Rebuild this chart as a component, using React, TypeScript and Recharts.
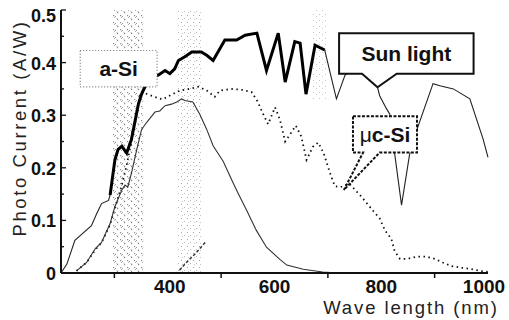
import { LineChart, Line, XAxis, YAxis, ReferenceArea } from "recharts";

// sun light spectrum (A/W scale)
const sunNm = [200, 211, 226, 236, 257, 267, 276, 289, 292, 301, 307, 314, 323, 332, 345, 351, 360, 372, 382, 395, 404, 413, 420, 432, 445, 463, 473, 485, 507, 529, 545, 567, 585, 607, 620, 638, 648, 659, 676, 694, 716, 732, 755, 780, 793, 797, 810, 816, 825, 838, 853, 867, 897, 910, 935, 966, 991, 1000];
const sunVal = [0.0, 0.017, 0.062, 0.071, 0.09, 0.113, 0.132, 0.138, 0.148, 0.215, 0.235, 0.241, 0.228, 0.254, 0.321, 0.34, 0.36, 0.372, 0.376, 0.385, 0.379, 0.388, 0.404, 0.411, 0.42, 0.42, 0.414, 0.404, 0.443, 0.443, 0.452, 0.456, 0.385, 0.456, 0.363, 0.44, 0.437, 0.34, 0.433, 0.424, 0.331, 0.376, 0.395, 0.37, 0.353, 0.337, 0.312, 0.302, 0.228, 0.129, 0.225, 0.273, 0.36, 0.356, 0.35, 0.331, 0.254, 0.22];
// part of the sun curve drawn with the heavy pen
const sunHeavyFrom = 292;
const sunHeavyTo = 694;

const aSiNm = [229, 248, 264, 276, 292, 301, 314, 320, 325, 332, 342, 351, 361, 376, 385, 395, 407, 417, 426, 432, 447, 460, 473, 485, 504, 523, 532, 548, 566, 585, 610, 623, 654, 690, 720];
const aSiVal = [0.004, 0.02, 0.046, 0.058, 0.094, 0.126, 0.158, 0.167, 0.163, 0.19, 0.235, 0.273, 0.287, 0.306, 0.308, 0.318, 0.321, 0.325, 0.331, 0.328, 0.325, 0.302, 0.273, 0.242, 0.212, 0.17, 0.151, 0.119, 0.081, 0.049, 0.026, 0.015, 0.007, 0.002, 0];

const ucSiNm = [229, 248, 264, 276, 292, 301, 312, 322, 332, 342, 350, 362, 375, 390, 405, 423, 441, 457, 473, 488, 498, 522, 540, 557, 569, 576, 588, 601, 610, 620, 628, 640, 650, 660, 672, 682, 692, 704, 713, 723, 740, 751, 763, 784, 797, 807, 819, 825, 835, 850, 866, 885, 900, 915, 932, 950, 966, 985, 1000];
const ucSiVal = [0.004, 0.02, 0.044, 0.058, 0.092, 0.124, 0.16, 0.2, 0.25, 0.31, 0.345, 0.34, 0.335, 0.33, 0.338, 0.347, 0.35, 0.354, 0.347, 0.335, 0.347, 0.35, 0.348, 0.344, 0.325, 0.308, 0.283, 0.315, 0.292, 0.25, 0.262, 0.28, 0.26, 0.215, 0.24, 0.248, 0.228, 0.19, 0.165, 0.163, 0.17, 0.158, 0.145, 0.119, 0.104, 0.081, 0.065, 0.042, 0.027, 0.027, 0.031, 0.031, 0.027, 0.02, 0.013, 0.01, 0.008, 0.004, 0.002];

// short stray trace inside the 430 nm band
const strayNm = [422, 435, 450, 470];
const strayVal = [0.005, 0.02, 0.035, 0.058];

// shaded wavelength bands [from, to, bottom, top]
const bands = [
  { from: 297, to: 354, lo: 0, hi: 0.5, fill: "url(#speckA)" },
  { from: 417, to: 464, lo: 0, hi: 0.5, fill: "url(#speckB)" },
  { from: 672, to: 700, lo: 0.33, hi: 0.5, fill: "url(#speckC)" },
];

const xTicks = [300, 400, 500, 600, 700, 800, 900, 1000];
const xLabelTicks = [400, 600, 800, 1000];
const topTicks = [300, 400, 500, 600, 700, 800, 900];
const yTicks = [0, 0.05, 0.1, 0.15, 0.2, 0.25, 0.3, 0.35, 0.4, 0.45, 0.5];
const yLabels: Record<string, string> = { "0": "0", "0.1": "0.1", "0.2": "0.2", "0.3": "0.3", "0.4": "0.4", "0.5": "0.5" };

const FONT = "'Liberation Sans', Arial, sans-serif";

const pts = (xs: number[], ys: number[]) => xs.map((x, i) => ({ x, y: ys[i] }));
const sunAll = pts(sunNm, sunVal);
const sunLeft = sunAll.filter((p) => p.x <= sunHeavyFrom);
const sunMid = sunAll.filter((p) => p.x >= sunHeavyFrom && p.x <= sunHeavyTo);
const sunRight = sunAll.filter((p) => p.x >= sunHeavyTo);

type Callout = {
  x1: number; x2: number; y1: number; y2: number;
  base?: [number, number]; tip?: [number, number];
  stroke: string; strokeWidth: number; dash?: string;
  text: React.ReactNode;
};

const callouts: Callout[] = [
  { x1: 236, x2: 380, y1: 0.354, y2: 0.423, stroke: "#777", strokeWidth: 1.2, dash: "1 2", text: "a-Si" },
  { x1: 721, x2: 973, y1: 0.379, y2: 0.456, base: [764, 829], tip: [793, 0.353], stroke: "#111", strokeWidth: 2, text: "Sun light" },
  {
    x1: 747, x2: 867, y1: 0.229, y2: 0.298, base: [766, 797], tip: [730, 0.158], stroke: "#111", strokeWidth: 2, dash: "3 1.5",
    text: <><tspan fontWeight={400}>μ</tspan>c-Si</>,
  },
];

function calloutShape(c: Callout) {
  return (p: any) => {
    const { x, y, width, height } = p;
    const sx = (v: number) => x + ((v - c.x1) / (c.x2 - c.x1)) * width;
    const sy = (v: number) => y + ((c.y2 - v) / (c.y2 - c.y1)) * height;
    const L = x, R = x + width, T = y, B = y + height;
    const d = c.base && c.tip
      ? `M${L},${T}H${R}V${B}H${sx(c.base[1])}L${sx(c.tip[0])},${sy(c.tip[1])}L${sx(c.base[0])},${B}H${L}Z`
      : `M${L},${T}H${R}V${B}H${L}Z`;
    return (
      <g>
        <path d={d} fill="#fff" stroke={c.stroke} strokeWidth={c.strokeWidth} strokeDasharray={c.dash} />
        <text x={(L + R) / 2} y={(T + B) / 2} dy="0.36em" textAnchor="middle" fontFamily={FONT} fontWeight={700} fontSize={21} fill="#111">
          {c.text}
        </text>
      </g>
    );
  };
}

function BottomTick({ x, y, payload }: any) {
  const v = payload.value;
  if (xLabelTicks.includes(v)) {
    return (
      <text x={v === 1000 ? x - 4 : v === 400 ? x + 2 : x} y={y + 20} textAnchor="middle" fontFamily={FONT} fontWeight={700} fontSize={19} fill="#111">
        {v}
      </text>
    );
  }
  return <line x1={x} x2={x} y1={y} y2={y + 5} stroke="#111" strokeWidth={1.5} />;
}

function TopTick({ x, y }: any) {
  return <line x1={x} x2={x} y1={y} y2={y + 4} stroke="#111" strokeWidth={1.3} />;
}

function LeftTick({ x, y, payload }: any) {
  const label = yLabels[String(payload.value)];
  const major = label !== undefined;
  return (
    <g>
      <line x1={x} x2={x + (major ? 5 : 3)} y1={y} y2={y} stroke="#111" strokeWidth={1.3} />
      {major && (
        <text x={x - 5} y={y + (payload.value === 0.5 ? 12 : 7)} textAnchor="end" fontFamily={FONT} fontWeight={700} fontSize={18} fill="#111">
          {label}
        </text>
      )}
    </g>
  );
}

function RightTick({ x, y }: any) {
  return <line x1={x - 4} x2={x} y1={y} y2={y} stroke="#111" strokeWidth={1.3} />;
}

export default function App() {
  return (
    <div style={{ width: 509, height: 320, background: "#fff" }}>
      <style>{"body{margin:0}"}</style>
      <LineChart width={509} height={320} margin={{ top: 10, right: 21, left: 0, bottom: 0 }}>
        <defs>
          <pattern id="speckA" width="7" height="7" patternUnits="userSpaceOnUse">
            <rect x="1" y="1" width="1.2" height="1.2" fill="#8a8a8a" />
            <rect x="3" y="2" width="1" height="1" fill="#9a9a9a" />
            <rect x="2" y="3" width="1" height="1" fill="#aaa" />
            <rect x="5" y="5" width="1.2" height="1.2" fill="#8a8a8a" />
            <rect x="4.5" y="4" width="1" height="1" fill="#b0b0b0" />
          </pattern>
          <pattern id="speckB" width="6" height="7" patternUnits="userSpaceOnUse">
            <rect x="1" y="1" width="1" height="1" fill="#aaa" />
            <rect x="4" y="4" width="1" height="1" fill="#b8b8b8" />
            <rect x="2" y="5" width="1" height="1" fill="#c4c4c4" />
          </pattern>
          <pattern id="speckC" width="6" height="6" patternUnits="userSpaceOnUse">
            <rect x="1" y="2" width="1" height="1" fill="#c4c4c4" />
            <rect x="4" y="4" width="1" height="1" fill="#cfcfcf" />
          </pattern>
        </defs>
        <XAxis
          type="number" dataKey="x" domain={[200, 1000]} ticks={xTicks} interval={0}
          height={47} tickSize={0} tickMargin={0} tickLine={false} tick={<BottomTick />}
          axisLine={{ stroke: "#111", strokeWidth: 2 }}
          label={{
            content: () => (
              <text x={411} y={314} textAnchor="middle" fontFamily={FONT} fontSize={18.5} letterSpacing={1.9} fill="#222">
                Wave length (nm)
              </text>
            ),
          }}
        />
        <XAxis
          xAxisId="top" orientation="top" type="number" domain={[200, 1000]} ticks={topTicks} interval={0}
          height={0} tickSize={0} tickMargin={0} tickLine={false} tick={<TopTick />}
          axisLine={{ stroke: "#111", strokeWidth: 1.5 }}
        />
        <YAxis
          type="number" domain={[0, 0.5]} ticks={yTicks} interval={0}
          width={61} tickSize={0} tickMargin={0} tickLine={false} tick={<LeftTick />}
          axisLine={{ stroke: "#111", strokeWidth: 2 }}
          label={{
            content: () => (
              <text x={26} y={128} transform="rotate(-90 26 128)" textAnchor="middle" fontFamily={FONT} fontSize={18.5} letterSpacing={2.6} fill="#222">
                Photo Current (A/W)
              </text>
            ),
          }}
        />
        <YAxis
          yAxisId="r" orientation="right" type="number" domain={[0, 0.5]} ticks={yTicks} interval={0}
          width={0} tickSize={0} tickMargin={0} tickLine={false} tick={<RightTick />}
          axisLine={{ stroke: "#111", strokeWidth: 1.5 }}
        />

        {bands.map((b, i) => (
          <ReferenceArea key={`band${i}`} x1={b.from} x2={b.to} y1={b.lo} y2={b.hi} fill={b.fill} fillOpacity={1} stroke="none" zIndex={50} />
        ))}

        <Line data={pts(ucSiNm, ucSiVal)} dataKey="y" type="linear" stroke="#111" strokeWidth={1.8} strokeDasharray="1.5 3.5" dot={false} isAnimationActive={false} />
        <Line data={pts(aSiNm, aSiVal)} dataKey="y" type="linear" stroke="#333" strokeWidth={1.1} dot={false} isAnimationActive={false} />
        <Line data={pts(strayNm, strayVal)} dataKey="y" type="linear" stroke="#333" strokeWidth={1.5} strokeDasharray="3 2" dot={false} isAnimationActive={false} />
        <Line data={sunLeft} dataKey="y" type="linear" stroke="#222" strokeWidth={1.1} dot={false} isAnimationActive={false} />
        <Line data={sunRight} dataKey="y" type="linear" stroke="#222" strokeWidth={1.1} dot={false} isAnimationActive={false} />
        <Line data={sunMid} dataKey="y" type="linear" stroke="#000" strokeWidth={3} strokeLinejoin="miter" dot={false} isAnimationActive={false} />

        {callouts.map((c, i) => (
          <ReferenceArea key={`call${i}`} x1={c.x1} x2={c.x2} y1={c.y1} y2={c.y2} shape={calloutShape(c)} zIndex={1500} />
        ))}
      </LineChart>
    </div>
  );
}
